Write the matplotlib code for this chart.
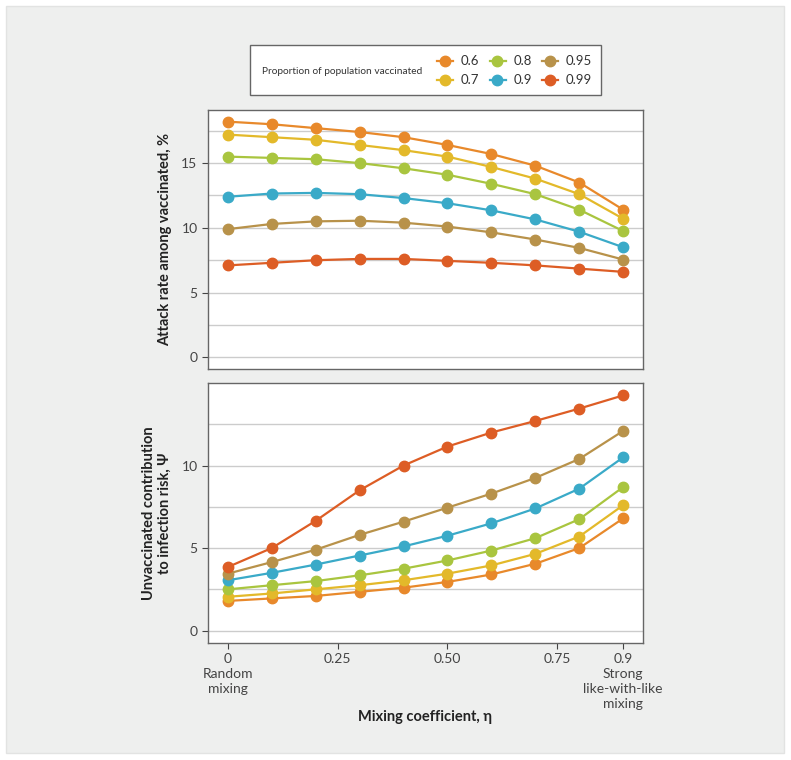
import matplotlib.pyplot as plt
from matplotlib.patches import Rectangle
from matplotlib.lines import Line2D

plt.rcParams['font.family'] = ['Lato', 'DejaVu Sans']

eta = [0, 0.1, 0.2, 0.3, 0.4, 0.5, 0.6, 0.7, 0.8, 0.9]
groups = ['0.6', '0.7', '0.8', '0.9', '0.95', '0.99']
colors = ['#E8892B', '#E3B92A', '#A9C53F', '#3AAAC8', '#B8924A', '#DD5D25']

# attack rate among vaccinated, %
attack = {
    '0.6': [18.2, 18.0, 17.7, 17.4, 17.0, 16.4, 15.7, 14.8, 13.5, 11.4],
    '0.7': [17.2, 17.0, 16.8, 16.4, 16.0, 15.5, 14.7, 13.8, 12.6, 10.7],
    '0.8': [15.5, 15.4, 15.3, 15.0, 14.6, 14.1, 13.4, 12.6, 11.4, 9.75],
    '0.9': [12.4, 12.65, 12.7, 12.6, 12.3, 11.9, 11.35, 10.65, 9.7, 8.5],
    '0.95': [9.9, 10.3, 10.5, 10.55, 10.4, 10.1, 9.65, 9.1, 8.45, 7.55],
    '0.99': [7.1, 7.3, 7.5, 7.6, 7.6, 7.45, 7.3, 7.1, 6.85, 6.6],
}

# unvaccinated contribution to infection risk, psi
psi = {
    '0.6': [1.8, 1.95, 2.1, 2.35, 2.6, 2.95, 3.4, 4.05, 5.0, 6.8],
    '0.7': [2.05, 2.25, 2.5, 2.75, 3.05, 3.45, 3.95, 4.65, 5.7, 7.6],
    '0.8': [2.5, 2.75, 3.0, 3.35, 3.75, 4.25, 4.85, 5.6, 6.75, 8.7],
    '0.9': [3.05, 3.5, 4.0, 4.55, 5.1, 5.75, 6.5, 7.4, 8.6, 10.5],
    '0.95': [3.45, 4.15, 4.9, 5.8, 6.6, 7.45, 8.3, 9.25, 10.4, 12.1],
    '0.99': [3.85, 5.0, 6.65, 8.5, 10.0, 11.15, 12.0, 12.7, 13.45, 14.25],
}

xticks = [0, 0.25, 0.5, 0.75, 0.9]
xticklabels = ['0\nRandom\nmixing', '0.25', '0.50', '0.75', '0.9\nStrong\nlike-with-like\nmixing']

W, H = 791, 760
bg = '#EEEFEE'
fig = plt.figure(figsize=(W / 100, H / 100), dpi=100)
fig.patches.append(Rectangle((6 / W, 1 - 753 / H), 778 / W, 747 / H,
                             transform=fig.transFigure, facecolor=bg, edgecolor='#E2E3E2', lw=1, zorder=-10))

ax1 = fig.add_axes([208 / W, 1 - 369 / H, 435 / W, 259 / H])
ax2 = fig.add_axes([208 / W, 1 - 643 / H, 435 / W, 260 / H])

for ax, data in [(ax1, attack), (ax2, psi)]:
    for g, c in zip(groups, colors):
        ax.plot(eta, data[g], color=c, lw=1.6, marker='o', markersize=7.5, label=g, zorder=3)
    ax.set_xlim(-0.045, 0.945)
    ax.grid(axis='y', which='both', color='#CCCCCC', lw=1)
    ax.set_axisbelow(True)
    for s in ax.spines.values():
        s.set_color('#666666')
        s.set_linewidth(1)
    ax.tick_params(axis='both', colors='#444444', labelsize=10, length=4, width=0.8)
    ax.tick_params(axis='y', which='minor', length=0)

ax1.set_ylim(-0.9, 19.1)
ax1.set_yticks([0, 5, 10, 15])
ax1.set_yticks([2.5, 7.5, 12.5, 17.5], minor=True)
ax1.set_xticks([])
ax1.set_ylabel('Attack rate among vaccinated, %', fontsize=10.5, fontweight='bold', color='#222222', labelpad=7)

ax2.set_ylim(-0.75, 15)
ax2.set_yticks([0, 5, 10])
ax2.set_yticks([2.5, 7.5, 12.5], minor=True)
ax2.set_xticks(xticks)
ax2.set_xticklabels(xticklabels, va='top', linespacing=1.3)
ax2.set_ylabel('Unvaccinated contribution\nto infection risk, \u03a8', fontsize=10.5, fontweight='bold',
               color='#222222', labelpad=7)
ax2.set_xlabel('Mixing coefficient, \u03b7', fontsize=10.5, fontweight='bold', color='#222222', va='center')
ax2.xaxis.set_label_coords(0.5, (643 - 717) / 260)

# legend box, drawn by hand in figure pixels
fig.patches.append(Rectangle((250 / W, 1 - 95 / H), 351 / W, 50 / H, transform=fig.transFigure,
                             facecolor='white', edgecolor='#666666', lw=1, zorder=5))
fig.text(262 / W, 1 - 71 / H, 'Proportion of population vaccinated', fontsize=7.3, color='#333333',
         va='center', ha='left', zorder=6)
for i, (g, c) in enumerate(zip(groups, colors)):
    col, row = i // 2, i % 2
    x0 = 437 + col * 52.5
    y0 = 61 + row * 19
    fig.add_artist(Line2D([x0 / W, (x0 + 16) / W], [1 - y0 / H, 1 - y0 / H], transform=fig.transFigure,
                          color=c, lw=1.6, zorder=7))
    fig.add_artist(Line2D([(x0 + 8) / W], [1 - y0 / H], transform=fig.transFigure, color=c,
                          marker='o', markersize=7.5, zorder=8))
    fig.text((x0 + 24) / W, 1 - y0 / H, g, fontsize=9.5, color='#333333', va='center', ha='left', zorder=8)

fig.savefig('out.png', dpi=100, facecolor='white')
